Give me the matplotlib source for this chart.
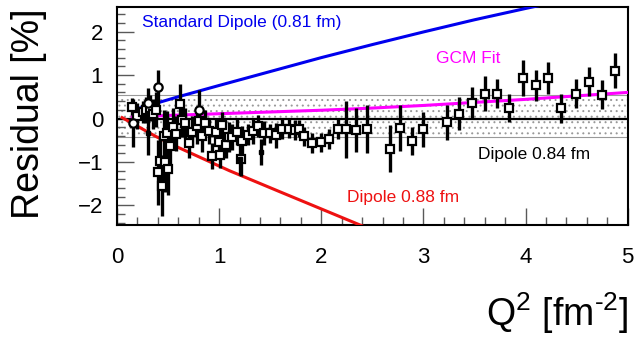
import matplotlib.pyplot as plt
from matplotlib.ticker import MultipleLocator

plt.rcParams['font.family'] = ['Liberation Sans', 'DejaVu Sans']
plt.rcParams['mathtext.fontset'] = 'custom'
plt.rcParams['mathtext.rm'] = 'Liberation Sans'
plt.rcParams['mathtext.it'] = 'Liberation Sans'
plt.rcParams['hatch.color'] = '#999999'
plt.rcParams['hatch.linewidth'] = 0.7

# main data set (open squares)
q2_sq = [0.15, 0.20, 0.25, 0.28, 0.32, 0.35, 0.38, 0.40, 0.42, 0.44, 0.46, 0.47,
         0.49, 0.50, 0.52, 0.55, 0.58, 0.62, 0.64, 0.67, 0.70, 0.73, 0.78, 0.80,
         0.83, 0.86, 0.90, 0.93, 0.97, 1.00, 1.01, 1.03, 1.07, 1.10, 1.13, 1.17,
         1.21, 1.22, 1.28, 1.33, 1.38, 1.44, 1.50, 1.56, 1.62, 1.68, 1.74, 1.78,
         1.83, 1.91, 2.00, 2.08, 2.16, 2.24, 2.34, 2.45, 2.67, 2.77, 2.89, 3.00,
         3.23, 3.35, 3.48, 3.60, 3.72, 3.84, 3.97, 4.10, 4.22, 4.35, 4.49, 4.62,
         4.75, 4.88]
res_sq = [0.27, 0.05, 0.15, 0.20, 0.25, 0.10, 0.20, -1.24, -0.98, -1.55, -0.40, -1.00,
          -0.33, -1.17, -0.63, -0.20, -0.35, 0.34, -0.03, -0.10, -0.56, -0.30, -0.18, -0.05,
          -0.41, -0.10, -0.28, -0.86, -0.30, -0.55, -0.84, -0.16, -0.60, -0.43, -0.42, -0.30,
          -0.92, -0.52, -0.37, -0.29, -0.18, -0.34, -0.34, -0.39, -0.23, -0.23, -0.27, -0.23,
          -0.41, -0.57, -0.55, -0.47, -0.23, -0.25, -0.27, -0.25, -0.69, -0.21, -0.52, -0.25,
          -0.09, 0.11, 0.36, 0.57, 0.57, 0.25, 0.93, 0.76, 0.93, 0.23, 0.57, 0.85,
          0.55, 1.10]
err_sq = [0.20, 0.30, 0.25, 0.30, 0.30, 0.35, 0.40, 0.75, 0.60, 0.70, 0.60, 0.70,
          0.50, 0.60, 0.50, 0.45, 0.40, 0.45, 0.40, 0.35, 0.35, 0.35, 0.40, 0.30,
          0.35, 0.30, 0.30, 0.30, 0.30, 0.35, 0.30, 0.30, 0.30, 0.35, 0.30, 0.30,
          0.40, 0.35, 0.25, 0.30, 0.25, 0.28, 0.22, 0.28, 0.25, 0.22, 0.23, 0.20,
          0.22, 0.23, 0.22, 0.22, 0.25, 0.65, 0.50, 0.55, 0.55, 0.53, 0.33, 0.40,
          0.40, 0.38, 0.36, 0.40, 0.34, 0.32, 0.42, 0.36, 0.36, 0.34, 0.34, 0.34,
          0.34, 0.40]

# second data set (open circles)
q2_ci = [0.16, 0.30, 0.40, 0.80]
res_ci = [-0.10, 0.36, 0.72, 0.20]
err_ci = [0.55, 0.35, 0.40, 0.45]

# third data set (small filled squares)
q2_fs = [0.30, 1.20, 1.41]
res_fs = [-0.33, -0.94, -0.78]
err_fs = [0.50, 0.35, 0.30]

# model curves
q2_std = [0.15, 0.6, 1.0, 1.5, 2.0, 2.5, 3.0, 3.5, 4.0, 4.2, 4.5]
res_std = [0.19, 0.50, 0.76, 1.08, 1.40, 1.70, 1.99, 2.27, 2.53, 2.63, 2.78]
q2_088 = [0.05, 0.37, 0.52, 1.1, 1.6, 2.36, 2.6]
res_088 = [0.02, -0.40, -0.58, -1.20, -1.69, -2.43, -2.66]
q2_gcm = [0.15, 0.5, 1.0, 1.5, 2.0, 2.5, 3.0, 3.5, 4.0, 4.5, 5.0]
res_gcm = [0.04, 0.07, 0.11, 0.15, 0.19, 0.24, 0.30, 0.37, 0.44, 0.52, 0.60]
band_lo, band_hi = -0.42, 0.55

fig = plt.figure(figsize=(6.36, 3.41), dpi=100)
ax = fig.add_axes([0.184, 0.34, 0.803, 0.639])

ax.fill_between([0, 5], [band_lo, band_lo], [band_hi, band_hi], facecolor='none',
                edgecolor='#999999', hatch='...', linewidth=0.8, zorder=1)
ax.axhline(0, color='black', lw=1.6, zorder=2)
ax.plot(q2_std, res_std, color='#0000ee', lw=2.2, zorder=3)
ax.plot(q2_088, res_088, color='#ee1111', lw=2.2, zorder=3)
ax.plot(q2_gcm, res_gcm, color='#ff00ff', lw=2.2, zorder=3)

ax.errorbar(q2_sq, res_sq, yerr=err_sq, fmt='s', ms=5.5, mfc='white', mec='black',
            mew=1.6, ecolor='black', elinewidth=2.4, capsize=0, zorder=5)
ax.errorbar(q2_ci, res_ci, yerr=err_ci, fmt='o', ms=6, mfc='white', mec='black',
            mew=1.6, ecolor='black', elinewidth=2.4, capsize=0, zorder=5)
ax.errorbar(q2_fs, res_fs, yerr=err_fs, fmt='s', ms=3.5, mfc='black', mec='black',
            ecolor='black', elinewidth=2.4, capsize=0, zorder=5)

ax.text(0.245, 2.2, 'Standard Dipole (0.81 fm)', color='#0000ee', fontsize=12.5, va='center')
ax.text(3.12, 1.37, 'GCM Fit', color='#ff00ff', fontsize=12.5, va='center')
ax.text(2.25, -1.81, 'Dipole 0.88 fm', color='#ee1111', fontsize=12.5, va='center')
ax.text(3.53, -0.82, 'Dipole 0.84 fm', color='black', fontsize=12.5, va='center')

ax.set_xlim(0, 5)
ax.set_ylim(-2.45, 2.56)
ax.xaxis.set_major_locator(MultipleLocator(1))
ax.xaxis.set_minor_locator(MultipleLocator(0.2))
ax.yaxis.set_major_locator(MultipleLocator(1))
ax.yaxis.set_minor_locator(MultipleLocator(0.2))
ax.tick_params(which='both', direction='in', color='0.35', width=1)
ax.tick_params(which='major', length=12, labelsize=16)
ax.tick_params(axis='x', which='major', pad=16)
ax.tick_params(axis='y', which='major', pad=10)
ax.tick_params(which='minor', length=6)
for s in ax.spines.values():
    s.set_linewidth(1.5)

fig.text(0.045, 0.975, 'Residual [%]', rotation=90, ha='center', va='top', fontsize=27)
fig.text(0.987, 0.082, r'Q$^{2}$ [fm$^{\text{-2}}$]', ha='right', va='center', fontsize=27)

fig.savefig('out.png', dpi=100)
